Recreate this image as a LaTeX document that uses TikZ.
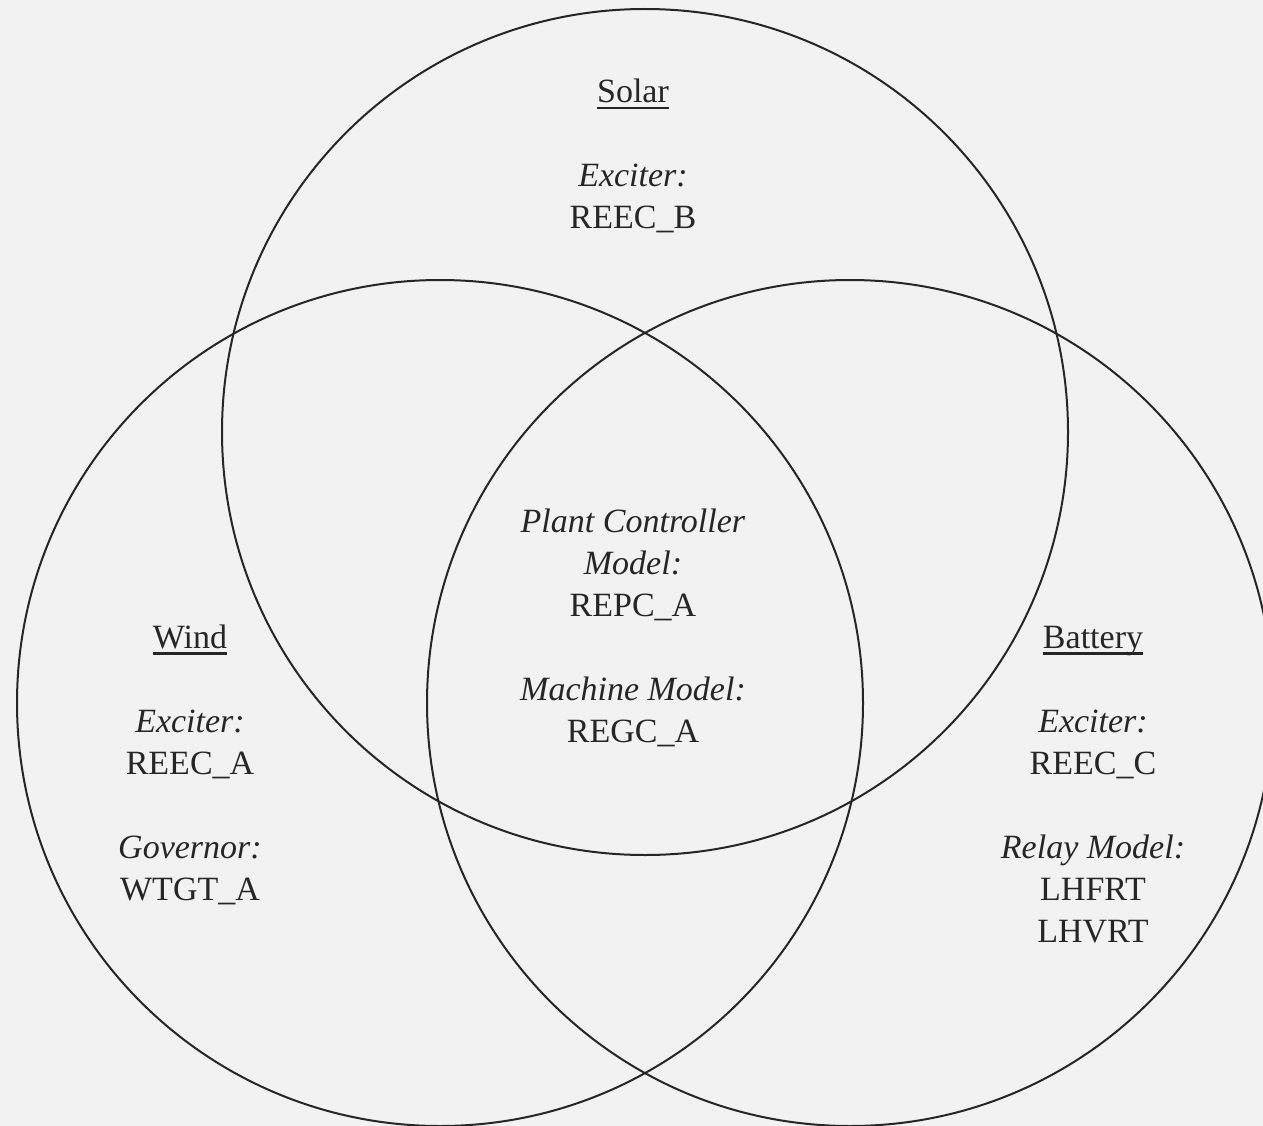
\documentclass[tikz,border=0pt]{standalone}
\usepackage{fontspec}
\setmainfont{Liberation Serif}
\newcommand\headline[1]{\setbox0=\hbox{#1}\rlap{\vrule height -4pt depth 6.5pt width \wd0}\box0}
\begin{document}
\begin{tikzpicture}[x=1pt,y=-1pt]
    \tikzstyle{ring}=[draw=black!85,line width=2pt]
    \tikzstyle{lbl}=[align=center,inner sep=0pt,anchor=base,text=black!85,
      font=\fontsize{34}{42}\selectfont]
    \fill[black!5] (0,0) rectangle (1263,1126);
    \clip (0,0) rectangle (1263,1126);
    % the three sets
    \draw[ring] (645,432) circle (423pt);
    \draw[ring] (440,703) circle (423pt);
    \draw[ring] (850,703) circle (423pt);
    % labels, placed by the baseline of their last line
    \node[lbl] (solar) at (633,229) {\headline{Solar}\\ \\ \textit{Exciter:}\\ REEC\_B};
    \node[lbl] (wind) at (190,900) {\headline{Wind}\\ \\ \textit{Exciter:}\\ REEC\_A\\ \\
      \textit{Governor:}\\ WTGT\_A};
    \node[lbl] (battery) at (1093,942) {\headline{Battery}\\ \\ \textit{Exciter:}\\ REEC\_C\\ \\
      \textit{Relay Model:}\\ LHFRT\\ LHVRT};
    \node[lbl] (core) at (633,742) {\textit{Plant Controller}\\ \textit{Model:}\\ REPC\_A\\ \\
      \textit{Machine Model:}\\ REGC\_A};
\end{tikzpicture}
\end{document}
